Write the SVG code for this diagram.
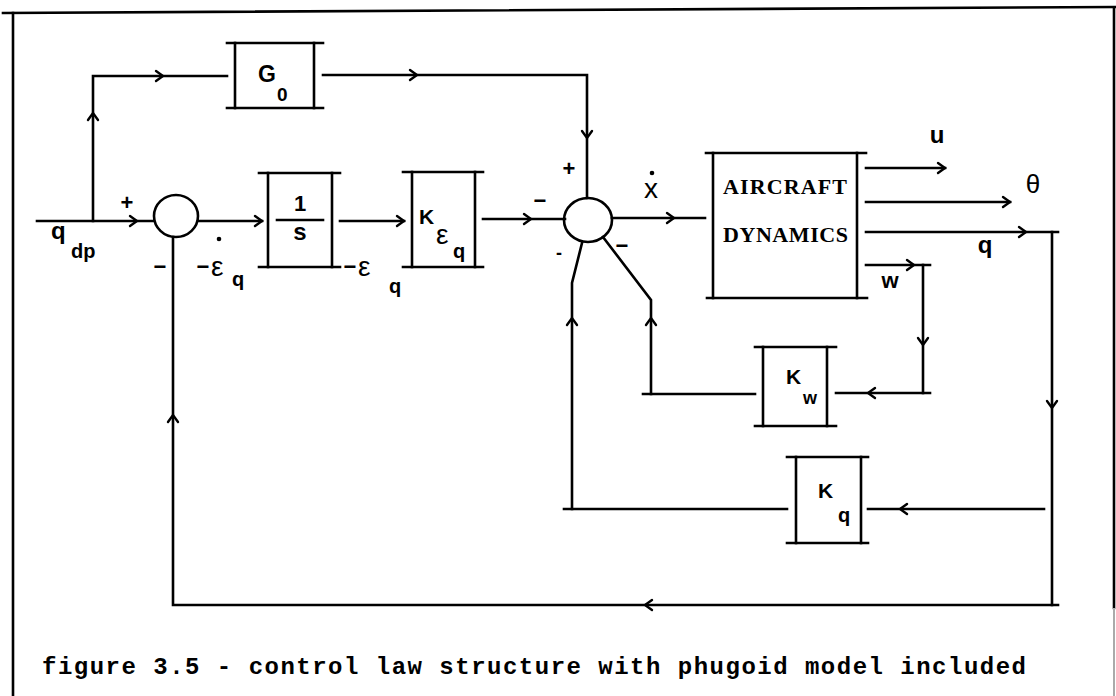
<svg xmlns="http://www.w3.org/2000/svg" xmlns:xlink="http://www.w3.org/1999/xlink" width="1116" height="696" viewBox="0 0 1116 696">
<style>
.ln{stroke:#000;stroke-width:2.6;fill:none;stroke-linecap:square}
.ah{stroke:#000;stroke-width:2.4;fill:none;stroke-linecap:round;stroke-linejoin:miter}
.lb{font-family:"Liberation Sans",Arial,sans-serif;font-weight:bold;fill:#000}
.gr{font-family:"Liberation Sans",Arial,sans-serif;fill:#000}
.mono{font-family:"Liberation Mono","Courier New",monospace;font-weight:bold;fill:#000}
.ser{font-family:"Liberation Serif","Times New Roman",serif;font-weight:bold;fill:#000}
</style>
<defs>
<path id="ah" d="M-7,-5 L0,0 L-7,5"/>
</defs>
<rect width="1116" height="696" fill="#fff"/>
<g id="frame">
<line class="ln" x1="3" y1="13" x2="1116" y2="7"/>
<line class="ln" x1="13" y1="13" x2="13" y2="696"/>
<line class="ln" x1="1114" y1="8" x2="1114" y2="608"/>
<line x1="1114" y1="608" x2="1114" y2="696" stroke="#aaa" stroke-width="2"/>
</g>
<g id="node-G0">
<line class="ln" x1="227" y1="43" x2="323" y2="43"/>
<line class="ln" x1="227" y1="108" x2="323" y2="108"/>
<line class="ln" x1="235" y1="43" x2="235" y2="108"/>
<line class="ln" x1="314" y1="43" x2="314" y2="108"/>
<text class="lb" x="258" y="82" font-size="23">G</text>
<text class="lb" x="277" y="101" font-size="19">0</text>
</g>
<g id="node-sum1">
<ellipse class="ln" cx="176" cy="216" rx="22" ry="21"/>
</g>
<g id="node-integrator">
<line class="ln" x1="259" y1="173" x2="340" y2="173"/>
<line class="ln" x1="259" y1="267" x2="340" y2="267"/>
<line class="ln" x1="268" y1="173" x2="268" y2="267"/>
<line class="ln" x1="332" y1="173" x2="332" y2="267"/>
<line class="ln" x1="277" y1="220" x2="323" y2="220"/>
<text class="lb" x="300" y="211" font-size="22" text-anchor="middle">1</text>
<text class="lb" x="300" y="240" font-size="24" text-anchor="middle">s</text>
</g>
<g id="node-Keq">
<line class="ln" x1="403" y1="172" x2="483" y2="172"/>
<line class="ln" x1="403" y1="267" x2="483" y2="267"/>
<line class="ln" x1="412" y1="172" x2="412" y2="267"/>
<line class="ln" x1="475" y1="172" x2="475" y2="267"/>
<text class="lb" x="419" y="224" font-size="21">K</text>
<text class="gr" x="436" y="244" font-size="28">ε</text>
<text class="lb" x="453" y="258" font-size="20">q</text>
</g>
<g id="node-sum2">
<ellipse class="ln" cx="588" cy="220" rx="24" ry="22"/>
</g>
<g id="node-aircraft">
<line class="ln" x1="706" y1="153" x2="866" y2="153"/>
<line class="ln" x1="707" y1="298" x2="867" y2="298"/>
<line class="ln" x1="713" y1="153" x2="713" y2="298"/>
<line class="ln" x1="857" y1="153" x2="857" y2="298"/>
<text class="ser" x="723" y="194" font-size="22" textLength="124" lengthAdjust="spacing">AIRCRAFT</text>
<text class="ser" x="723" y="242" font-size="22" textLength="125" lengthAdjust="spacing">DYNAMICS</text>
</g>
<g id="node-Kw">
<line class="ln" x1="755" y1="347" x2="836" y2="347"/>
<line class="ln" x1="755" y1="426" x2="836" y2="426"/>
<line class="ln" x1="763" y1="347" x2="763" y2="426"/>
<line class="ln" x1="827" y1="347" x2="827" y2="426"/>
<text class="lb" x="786" y="384" font-size="21">K</text>
<text class="lb" x="803" y="404" font-size="18">w</text>
</g>
<g id="node-Kq">
<line class="ln" x1="787" y1="457" x2="868" y2="457"/>
<line class="ln" x1="787" y1="543" x2="868" y2="543"/>
<line class="ln" x1="796" y1="457" x2="796" y2="543"/>
<line class="ln" x1="861" y1="457" x2="861" y2="543"/>
<text class="lb" x="818" y="498" font-size="21">K</text>
<text class="lb" x="838" y="522" font-size="20">q</text>
</g>
<g id="connectors">
<polyline class="ln" points="37,221 154,221"/>
<polyline class="ln" points="93,221 93,76 227,76"/>
<polyline class="ln" points="323,75 587,75 587,198"/>
<polyline class="ln" points="198,221 262,221"/>
<polyline class="ln" points="340,221 404,221"/>
<polyline class="ln" points="483,219 565,219"/>
<polyline class="ln" points="612,218 705,218"/>
<polyline class="ln" points="866,168 945,168"/>
<polyline class="ln" points="866,202 1010,202"/>
<polyline class="ln" points="866,232 1058,232"/>
<polyline class="ln" points="1052,232 1052,605"/>
<polyline class="ln" points="1058,605 173,605 173,237"/>
<polyline class="ln" points="1044,509 868,509"/>
<polyline class="ln" points="787,509 564,509"/>
<polyline class="ln" points="572,509 572,283 582,243"/>
<polyline class="ln" points="866,265 930,265"/>
<polyline class="ln" points="923,265 923,393"/>
<polyline class="ln" points="930,393 836,393"/>
<polyline class="ln" points="755,394 643,394"/>
<polyline class="ln" points="651,394 651,300 603,237"/>
<g class="ah">
<use xlink:href="#ah" transform="translate(163,76)"/>
<use xlink:href="#ah" transform="translate(93,113) rotate(-90)"/>
<use xlink:href="#ah" transform="translate(137,221)"/>
<use xlink:href="#ah" transform="translate(262,221)"/>
<use xlink:href="#ah" transform="translate(404,221)"/>
<use xlink:href="#ah" transform="translate(531,219)"/>
<use xlink:href="#ah" transform="translate(417,75)"/>
<use xlink:href="#ah" transform="translate(587,138) rotate(90)"/>
<use xlink:href="#ah" transform="translate(674,218)"/>
<use xlink:href="#ah" transform="translate(945,168)"/>
<use xlink:href="#ah" transform="translate(1010,202)"/>
<use xlink:href="#ah" transform="translate(1026,232)"/>
<use xlink:href="#ah" transform="translate(914,265)"/>
<use xlink:href="#ah" transform="translate(923,345) rotate(90)"/>
<use xlink:href="#ah" transform="translate(868,393) rotate(180)"/>
<use xlink:href="#ah" transform="translate(651,318) rotate(-90)"/>
<use xlink:href="#ah" transform="translate(572,318) rotate(-90)"/>
<use xlink:href="#ah" transform="translate(1052,408) rotate(90)"/>
<use xlink:href="#ah" transform="translate(900,509) rotate(180)"/>
<use xlink:href="#ah" transform="translate(645,605) rotate(180)"/>
<use xlink:href="#ah" transform="translate(173,415) rotate(-90)"/>
</g>
</g>
<g id="labels">
<text class="lb" x="51" y="239" font-size="24">q</text>
<text class="lb" x="71" y="258" font-size="20">dp</text>
<text class="lb" x="127" y="210" font-size="22" text-anchor="middle">+</text>
<text class="lb" x="160" y="274" font-size="22" text-anchor="middle">−</text>
<circle cx="219" cy="239" r="2.3" fill="#000"/>
<text class="lb" x="203" y="274" font-size="22" text-anchor="middle">−</text>
<text class="gr" x="211" y="276" font-size="28">ε</text>
<text class="lb" x="232" y="286" font-size="20">q</text>
<text class="lb" x="350" y="274" font-size="22" text-anchor="middle">−</text>
<text class="gr" x="358" y="276" font-size="28">ε</text>
<text class="lb" x="389" y="293" font-size="20">q</text>
<text class="lb" x="540" y="208" font-size="22" text-anchor="middle">−</text>
<text class="lb" x="569" y="176" font-size="22" text-anchor="middle">+</text>
<circle cx="652" cy="173" r="2.3" fill="#000"/>
<text class="gr" x="651" y="198" font-size="28" text-anchor="middle">x</text>
<text class="lb" x="559" y="259" font-size="18" text-anchor="middle">-</text>
<text class="lb" x="622" y="253" font-size="22" text-anchor="middle">−</text>
<text class="lb" x="937" y="143" font-size="24" text-anchor="middle">u</text>
<text class="gr" x="1033" y="193" font-size="26" text-anchor="middle">θ</text>
<text class="lb" x="985" y="253" font-size="24" text-anchor="middle">q</text>
<text class="lb" x="890" y="288" font-size="22" text-anchor="middle">w</text>
<text class="mono" x="42" y="674" font-size="24" textLength="984" lengthAdjust="spacing">figure 3.5 - control law structure with phugoid model included</text>
</g>
</svg>
